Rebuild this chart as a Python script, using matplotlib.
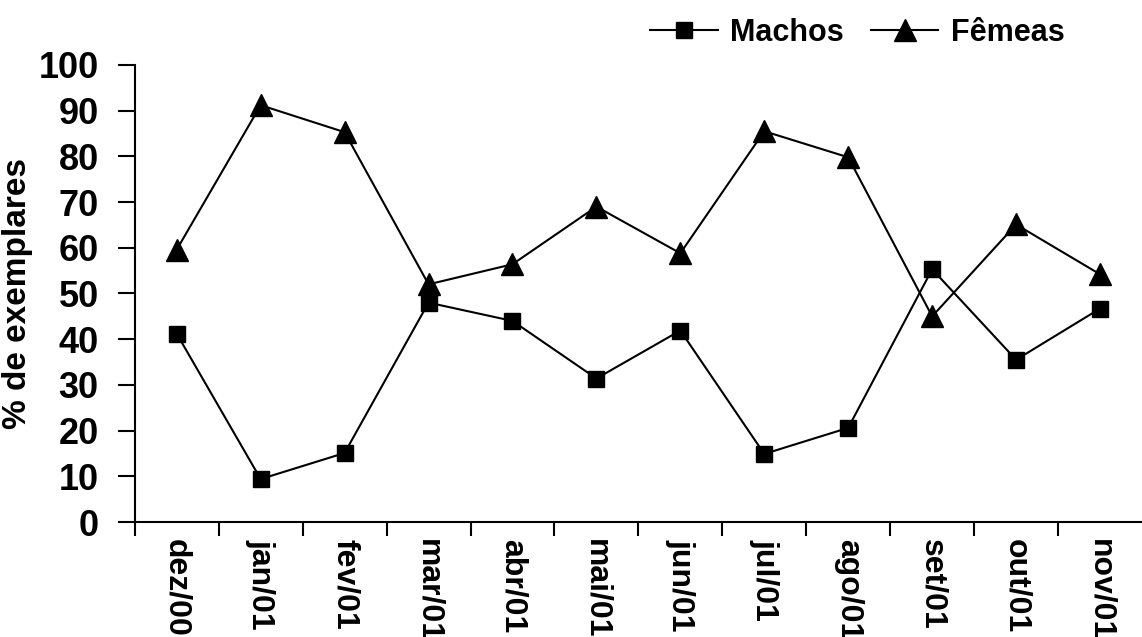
import matplotlib
matplotlib.use("Agg")
import matplotlib.pyplot as plt
import numpy as np

# dados
meses = ["dez/00", "jan/01", "fev/01", "mar/01", "abr/01", "mai/01",
         "jun/01", "jul/01", "ago/01", "set/01", "out/01", "nov/01"]
machos = [41.2, 9.4, 15.1, 48.0, 44.0, 31.4, 41.9, 14.9, 20.6, 55.3, 35.5, 46.7]
femeas = [59.6, 91.2, 85.3, 52.0, 56.4, 69.0, 58.8, 85.5, 79.8, 45.0, 65.1, 54.2]
yticks = [0, 10, 20, 30, 40, 50, 60, 70, 80, 90, 100]

plt.rcParams['font.family'] = ['Liberation Sans', 'DejaVu Sans']
plt.rcParams['font.weight'] = 'bold'

fig = plt.figure(figsize=(11.42, 6.37), dpi=100)
ax = fig.add_axes([0.118, 0.1805, 0.882, 0.7175])

x = np.arange(len(meses))
ax.plot(x, machos, color='black', lw=1.5, marker='s', markersize=12,
        label='Machos')
ax.plot(x, femeas, color='black', lw=1.5, marker='^', markersize=16,
        label='Fêmeas')

ax.set_xlim(-0.5, len(meses) - 0.5)
ax.set_ylim(0, 100)
ax.set_yticks(yticks)
ax.set_yticklabels([str(v) for v in yticks], fontsize=26, fontweight='bold')

# ticks nas fronteiras das categorias, rotulos no centro
ax.set_xticks(np.arange(len(meses)) - 0.5)
ax.set_xticklabels([])
ax.set_xticks(x, minor=True)
ax.set_xticklabels(meses, minor=True, rotation=-90, fontsize=23,
                   fontweight='bold', va='top')
ax.tick_params(axis='x', which='major', direction='out', length=10, width=1.5)
ax.tick_params(axis='x', which='minor', length=0, pad=12)
ax.tick_params(axis='y', direction='out', length=12, width=1.5, pad=14)

ax.spines['top'].set_visible(False)
ax.spines['right'].set_visible(False)
ax.spines['left'].set_linewidth(1.5)
ax.spines['bottom'].set_linewidth(1.5)
for s in ax.spines.values():
    s.set_clip_on(False)

ax.set_ylabel('% de exemplares', fontsize=24, fontweight='bold', labelpad=4)

ax.legend(loc='lower right', bbox_to_anchor=(0.935, 1.01), ncol=2,
          frameon=False, fontsize=22, handlelength=2.2, columnspacing=0.9,
          handletextpad=0.4, borderaxespad=0)

fig.savefig('out.png', dpi=100)
